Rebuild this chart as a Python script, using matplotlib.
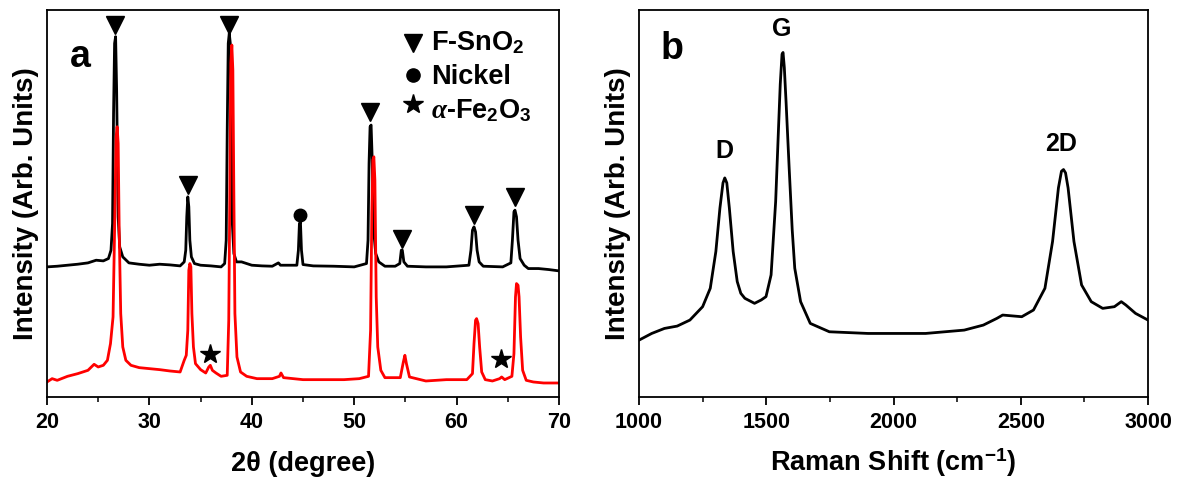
import matplotlib
matplotlib.use("Agg")
import matplotlib.pyplot as plt

plt.rcParams["font.family"] = ["Liberation Sans", "DejaVu Sans"]
plt.rcParams["font.weight"] = "bold"
plt.rcParams["mathtext.fontset"] = "custom"
plt.rcParams["mathtext.rm"] = "Liberation Sans:bold"
plt.rcParams["mathtext.bf"] = "Liberation Sans:bold"
plt.rcParams["mathtext.it"] = "Liberation Serif:italic"

# XRD, black trace (F-SnO2 / nickel)
xrd_black = [
    (20, 390), (21, 392), (22, 395), (23, 398), (24, 402), (24.8, 410), (25.5, 408), (26.0, 415),
    (26.25, 440), (26.4, 520), (26.5, 850), (26.6, 1060), (26.7, 1080), (26.8, 920), (26.95, 540),
    (27.1, 450), (27.4, 420), (28, 402), (29, 398), (30, 395), (31, 398), (32, 396), (33, 393),
    (33.4, 405), (33.55, 440), (33.65, 540), (33.75, 600), (33.85, 570), (33.95, 470), (34.1, 420),
    (34.4, 400), (35, 395), (36, 393), (37, 390), (37.35, 400), (37.5, 470), (37.6, 800), (37.7, 1060),
    (37.8, 1090), (37.9, 1060), (38.0, 850), (38.1, 520), (38.25, 430), (38.5, 405), (39, 405),
    (40, 395), (41, 393), (42, 392), (42.6, 402), (42.8, 395), (44.4, 395), (44.55, 440), (44.65, 520),
    (44.75, 525), (44.85, 440), (45.0, 397), (46, 393), (48, 392), (50, 390), (51.2, 400), (51.35, 470),
    (51.45, 700), (51.55, 810), (51.65, 815), (51.75, 720), (51.9, 500), (52.1, 430), (52.4, 405),
    (53, 392), (54, 392), (54.45, 400), (54.6, 440), (54.7, 440), (54.85, 405), (55.2, 392), (57, 390),
    (59, 390), (61.2, 395), (61.4, 440), (61.55, 500), (61.7, 510), (61.85, 495), (62.0, 440),
    (62.2, 405), (62.6, 392), (64.5, 390), (65.3, 402), (65.45, 470), (65.6, 555), (65.7, 560),
    (65.85, 540), (66.0, 470), (66.2, 415), (66.6, 395), (67, 385), (68, 385), (69, 382), (70, 378),
]
xrd_black_x = [p[0] for p in xrd_black]
xrd_black_y = [p[1] for p in xrd_black]

# XRD, red trace (with alpha-Fe2O3)
xrd_red = [
    (20, 45), (20.5, 55), (21, 50), (22, 62), (23, 70), (24, 80), (24.6, 98), (25, 90), (25.5, 95),
    (25.9, 110), (26.2, 160), (26.45, 240), (26.6, 500), (26.75, 780), (26.85, 810), (26.95, 760),
    (27.05, 500), (27.2, 250), (27.4, 150), (27.7, 110), (28.2, 95), (29, 88), (30, 85), (31, 82),
    (32, 78), (33, 75), (33.4, 110), (33.6, 125), (33.75, 200), (33.85, 380), (33.95, 400), (34.05, 390),
    (34.15, 250), (34.3, 150), (34.5, 100), (35, 82), (35.5, 72), (35.8, 90), (35.95, 95), (36.15, 80),
    (36.5, 72), (37, 62), (37.6, 65), (37.75, 230), (37.85, 600), (37.95, 1000), (38.05, 1055),
    (38.15, 980), (38.25, 600), (38.35, 250), (38.55, 120), (38.9, 75), (39.5, 62), (40.5, 55), (42, 55),
    (42.7, 62), (42.85, 72), (43.1, 58), (45, 52), (47, 52), (49, 52), (50.5, 55), (51.4, 62), (51.6, 200),
    (51.72, 550), (51.82, 710), (51.92, 720), (52.02, 650), (52.15, 300), (52.3, 150), (52.6, 80),
    (53, 58), (54.5, 58), (54.8, 105), (54.95, 125), (55.1, 100), (55.4, 60), (57, 48), (59, 52), (61, 52),
    (61.55, 70), (61.7, 160), (61.85, 230), (61.95, 235), (62.1, 220), (62.25, 150), (62.45, 75),
    (62.8, 52), (63.5, 48), (64.2, 55), (64.4, 60), (64.7, 52), (65.4, 62), (65.6, 130), (65.75, 300),
    (65.85, 340), (66.0, 335), (66.1, 300), (66.25, 180), (66.45, 80), (66.8, 50), (67.5, 45),
    (68.5, 42), (70, 42),
]
xrd_red_x = [p[0] for p in xrd_red]
xrd_red_y = [p[1] for p in xrd_red]

# phase markers
tri_x = [26.67, 33.75, 37.8, 51.57, 54.64, 61.69, 65.69]
tri_y = [1115, 635, 1115, 855, 475, 545, 600]
ni_x = [44.7]
ni_y = [545]
star_x = [35.9, 64.3]
star_y = [128, 115]

# Raman spectrum
raman = [
    (1000, 170), (1050, 190), (1100, 205), (1150, 212), (1200, 230), (1250, 270), (1280, 325),
    (1302, 435), (1318, 565), (1330, 640), (1337, 655), (1345, 640), (1355, 565), (1370, 435),
    (1386, 345), (1400, 310), (1416, 295), (1454, 280), (1480, 290), (1499, 300), (1519, 365),
    (1537, 585), (1548, 800), (1555, 935), (1562, 1025), (1566, 1030), (1571, 985), (1578, 880),
    (1590, 685), (1602, 500), (1612, 385), (1635, 285), (1673, 220), (1748, 195), (1900, 190),
    (2126, 190), (2278, 200), (2353, 215), (2406, 235), (2429, 245), (2504, 240), (2550, 260),
    (2595, 325), (2625, 465), (2648, 625), (2660, 675), (2668, 680), (2676, 670), (2686, 625),
    (2709, 465), (2739, 335), (2777, 285), (2822, 265), (2868, 270), (2895, 285), (2913, 275),
    (2951, 250), (3000, 230),
]
raman_x = [p[0] for p in raman]
raman_y = [p[1] for p in raman]
raman_labels = ["D", "G", "2D"]
raman_label_x = [1337, 1562, 2660]
raman_label_y = [700, 1065, 720]

legend_names = ["F-SnO$_2$", "Nickel", "$\\mathit{\\alpha}$-Fe$_2$O$_3$"]
legend_marks = ["v", "o", "*"]
legend_ms = [13, 9.5, 15]

fig = plt.figure(figsize=(11.81, 4.79), dpi=100)
ax1 = fig.add_axes([47 / 1181, 82 / 479, 512 / 1181, 387 / 479])
ax2 = fig.add_axes([639 / 1181, 82 / 479, 509 / 1181, 387 / 479])

ax1.plot(xrd_black_x, xrd_black_y, color="black", lw=2)
ax1.plot(xrd_red_x, xrd_red_y, color="red", lw=2)
ax1.plot(tri_x, tri_y, "v", color="black", ms=13, ls="none")
ax1.plot(ni_x, ni_y, "o", color="black", ms=9, ls="none")
ax1.plot(star_x, star_y, "*", color="black", ms=15, ls="none")
ax1.set_xlim(20, 70)
ax1.set_ylim(0, 1160)
ax1.set_xticks([20, 30, 40, 50, 60, 70])
ax1.set_xticks([25, 35, 45, 55, 65], minor=True)
ax1.set_xlabel("2θ (degree)", fontsize=19.5, fontweight="bold", labelpad=13)
ax1.set_ylabel("Intensity (Arb. Units)", fontsize=20, fontweight="bold", labelpad=6)
ax1.text(0.045, 0.853, "a", transform=ax1.transAxes, fontsize=27, fontweight="bold")

# legend drawn as markers + texts
leg_mark_y = [0.915, 0.832, 0.756]
leg_text_y = [0.897, 0.809, 0.721]
for m, ms, my, ty, name in zip(legend_marks, legend_ms, leg_mark_y, leg_text_y, legend_names):
    ax1.plot([0.715], [my], m, color="black", ms=ms, transform=ax1.transAxes, clip_on=False)
    ax1.text(0.750, ty, name, transform=ax1.transAxes, fontsize=19.5, fontweight="bold")

ax2.plot(raman_x, raman_y, color="black", lw=2)
for lab, lx, ly in zip(raman_labels, raman_label_x, raman_label_y):
    ax2.text(lx, ly, lab, fontsize=18, fontweight="bold", ha="center", va="bottom")
ax2.set_xlim(1000, 3000)
ax2.set_ylim(0, 1157)
ax2.set_xticks([1000, 1500, 2000, 2500, 3000])
ax2.set_xticks([1250, 1750, 2250, 2750], minor=True)
ax2.set_xlabel("Raman Shift (cm$^{-1}$)", fontsize=19.5, fontweight="bold", labelpad=10)
ax2.set_ylabel("Intensity (Arb. Units)", fontsize=20, fontweight="bold", labelpad=6)
ax2.text(0.043, 0.873, "b", transform=ax2.transAxes, fontsize=27, fontweight="bold")

for ax in (ax1, ax2):
    ax.set_yticks([])
    ax.tick_params(axis="x", which="both", direction="out", labelsize=15.5, top=False)
    ax.tick_params(axis="x", which="major", length=6, width=1.3, pad=4.5)
    ax.tick_params(axis="x", which="minor", length=3.5, width=1.1)
    for lbl in ax.get_xticklabels():
        lbl.set_fontweight("bold")
    for s in ax.spines.values():
        s.set_linewidth(1.3)

fig.savefig("out.png", dpi=100)
